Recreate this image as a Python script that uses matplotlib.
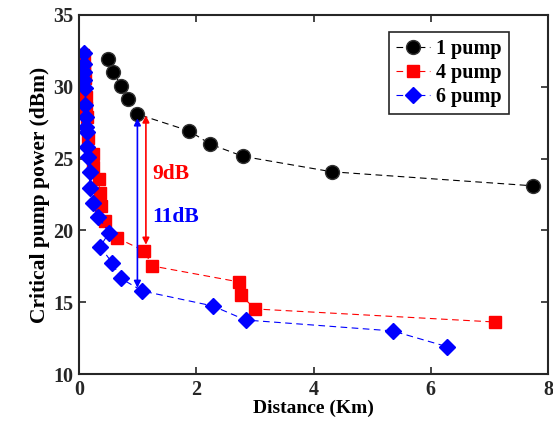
import matplotlib.pyplot as plt

plt.rcParams['font.family'] = 'Liberation Serif'
plt.rcParams['font.weight'] = 'bold'

# 1 pump
x1 = [0.49, 0.58, 0.72, 0.84, 0.99, 1.88, 2.24, 2.80, 4.31, 7.75]
y1 = [31.94, 31.03, 30.06, 29.15, 28.1, 26.92, 26.0, 25.15, 24.08, 23.1]

# 4 pump
x4 = [0.07, 0.08, 0.09, 0.09, 0.10, 0.11, 0.12, 0.13, 0.15,
      0.24, 0.24, 0.34, 0.35, 0.37, 0.44, 0.65, 1.11, 1.25, 2.73, 2.76, 3.0, 7.1]
y4 = [32.2, 31.9, 31.3, 31.05, 30.6, 29.3, 28.5, 27.9, 26.4,
      25.3, 24.4, 23.56, 22.6, 21.7, 20.65, 19.47, 18.57, 17.52, 16.41, 15.5, 14.53, 13.62]

# 6 pump
x6 = [0.08, 0.08, 0.09, 0.09, 0.10, 0.10, 0.11, 0.12, 0.13, 0.14, 0.16, 0.18,
      0.18, 0.23, 0.33, 0.51, 0.36, 0.57, 0.71, 1.08, 2.28, 2.84, 5.35, 6.28]
y6 = [32.33, 31.6, 31.05, 30.47, 29.9, 28.73, 27.92, 27.2, 26.87, 25.83, 25.13, 24.09,
      22.93, 21.93, 20.95, 19.84, 18.87, 17.71, 16.66, 15.78, 14.74, 13.76, 13.0, 11.9]

fig = plt.figure(figsize=(5.53, 4.26), dpi=100)
ax = fig.add_axes([0.143, 0.122, 0.848, 0.843])

ax.plot(x1, y1, '--o', color='black', mfc='black', mec='#333333', ms=10, lw=0.8,
        dashes=(6, 4), label='1 pump')
ax.plot(x4, y4, '--s', color='red', mfc='red', mec='red', ms=8.5, lw=0.8,
        dashes=(6, 4), label='4 pump')
ax.plot(x6, y6, '--D', color='blue', mfc='blue', mec='blue', ms=8.5, lw=0.8,
        dashes=(6, 4), label='6 pump')

# gain arrows
ax.annotate('', xy=(0.995, 27.8), xytext=(0.995, 16.0),
            arrowprops=dict(arrowstyle='<|-|>', color='blue', lw=1.2, shrinkA=0, shrinkB=0))
ax.annotate('', xy=(1.14, 28.0), xytext=(1.14, 19.0),
            arrowprops=dict(arrowstyle='<|-|>', color='red', lw=1.2, shrinkA=0, shrinkB=0))
ax.text(1.25, 23.9, '9dB', color='red', fontsize=15.5, fontweight='bold', va='center')
ax.text(1.25, 20.9, '11dB', color='blue', fontsize=15.5, fontweight='bold', va='center')

ax.set_xlim(0, 8)
ax.set_ylim(10, 35)
ax.set_xticks([0, 2, 4, 6, 8])
ax.set_yticks([10, 15, 20, 25, 30, 35])
ax.tick_params(direction='in', top=True, right=True, labelsize=14.5, width=1.2,
               length=5, colors='#262626')
ax.tick_params(axis='x', pad=4)
ax.tick_params(axis='y', pad=4)
for s in ax.spines.values():
    s.set_linewidth(1.5)
    s.set_color('#262626')
ax.set_xlabel('Distance (Km)', fontsize=14, fontweight='bold', labelpad=0)
ax.set_ylabel('Critical pump power (dBm)', fontsize=15.5, fontweight='bold', labelpad=2)

leg = ax.legend(loc='upper right', bbox_to_anchor=(0.916, 0.953), fontsize=14.5,
                fancybox=False, edgecolor='#262626', framealpha=1,
                handlelength=1.7, borderpad=0.35, labelspacing=0.2,
                handletextpad=0.3, borderaxespad=0)
leg.get_frame().set_linewidth(1.2)

fig.savefig('out.png', dpi=100)
